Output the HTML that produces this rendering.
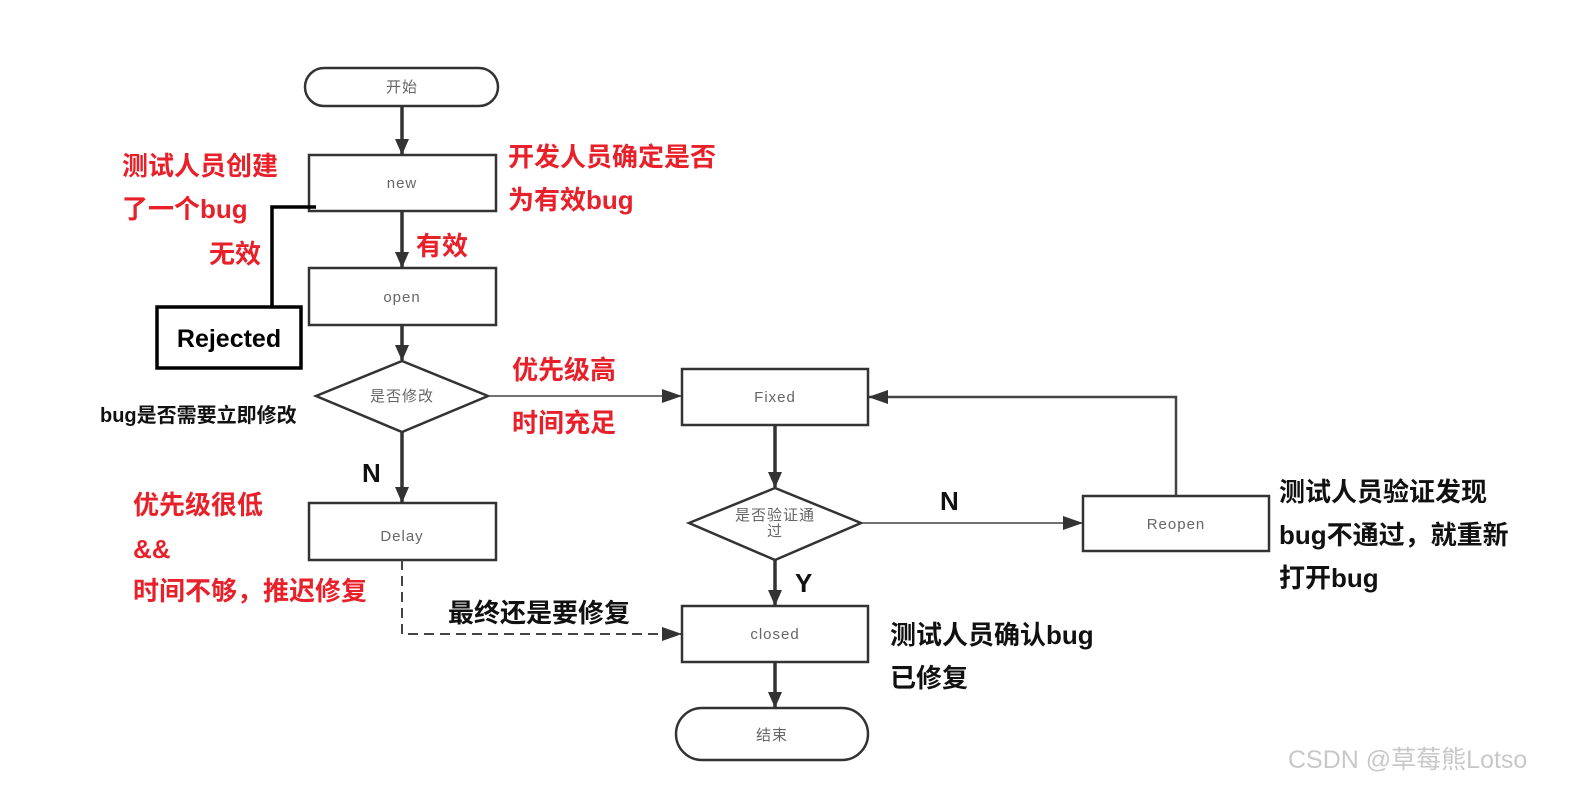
<!DOCTYPE html>
<html><head><meta charset="utf-8"><style>
html,body{margin:0;padding:0;background:#fff;}
svg{display:block;}
.r{fill:#e8202a;font-family:"Liberation Sans","Noto Sans CJK SC",sans-serif;font-weight:bold;font-size:26px;}
.k{fill:#111;font-family:"Liberation Sans","Noto Sans CJK SC",sans-serif;font-weight:bold;font-size:26px;}
.g{fill:#666;font-family:"Liberation Sans","Noto Sans CJK SC",sans-serif;font-size:15px;letter-spacing:1px;}
</style></head><body>
<svg width="1582" height="792" viewBox="0 0 1582 792" xmlns="http://www.w3.org/2000/svg">
<defs><marker id="a" markerWidth="14" markerHeight="16" refX="7" refY="15" orient="0" markerUnits="userSpaceOnUse"><path d="M0,0 L14,0 L7,16 z" fill="#333"/></marker>
<marker id="b" markerWidth="20" markerHeight="14" refX="19" refY="7" orient="auto" markerUnits="userSpaceOnUse"><path d="M0,0 L20,7 L0,14 z" fill="#333"/></marker></defs>
<g fill="#fff" stroke="#333" stroke-width="2.5">
<rect x="305" y="68" width="193" height="38" rx="19"/>
<rect x="309" y="155" width="187" height="56"/>
<rect x="309" y="268" width="187" height="57"/>
<polygon points="316,396 402,361 488,396 402,432"/>
<rect x="682" y="369" width="186" height="56"/>
<rect x="309" y="503" width="187" height="57"/>
<polygon points="689,523 775,488 861,523 775,560"/>
<rect x="1083" y="496" width="186" height="55"/>
<rect x="682" y="606" width="186" height="56"/>
<rect x="676" y="708" width="192" height="52" rx="26"/>
</g>
<rect x="157" y="307" width="144" height="61" fill="#fff" stroke="#000" stroke-width="3.5"/>
<g stroke="#333" stroke-width="3.5" fill="none" marker-end="url(#a)">
<line x1="402" y1="106" x2="402" y2="154"/>
<line x1="402" y1="211" x2="402" y2="267"/>
<line x1="402" y1="325" x2="402" y2="360"/>
<line x1="402" y1="432" x2="402" y2="502"/>
<line x1="775" y1="425" x2="775" y2="487"/>
<line x1="775" y1="560" x2="775" y2="605"/>
<line x1="775" y1="662" x2="775" y2="707"/>
</g>
<g stroke="#444" stroke-width="1.5" fill="none" marker-end="url(#b)">
<line x1="488" y1="396" x2="681" y2="396"/>
<line x1="861" y1="523" x2="1082" y2="523"/>
<polyline points="1176,496 1176,397 869,397" stroke-width="2.5"/>
<polyline points="402,560 402,634 681,634" stroke-dasharray="10,6" stroke-width="2"/>
</g>
<polyline points="316,207 272,207 272,307" stroke="#000" stroke-width="3.5" fill="none"/>
<g class="g" text-anchor="middle">
<text x="402" y="92">开始</text>
<text x="402" y="188">new</text>
<text x="402" y="302">open</text>
<text x="402" y="401">是否修改</text>
<text x="775" y="402">Fixed</text>
<text x="402" y="541">Delay</text>
<text x="775" y="520">是否验证通</text>
<text x="775" y="536">过</text>
<text x="1176" y="529">Reopen</text>
<text x="775" y="639">closed</text>
<text x="772" y="740">结束</text>
</g>
<text x="229" y="347" text-anchor="middle" style="font-family:'Liberation Sans',sans-serif;font-weight:bold;font-size:25px;fill:#000">Rejected</text>
<text class="r" x="122" y="175">测试人员创建</text>
<text class="r" x="122" y="218">了一个bug</text>
<text class="r" x="209" y="263">无效</text>
<text class="r" x="508" y="166">开发人员确定是否</text>
<text class="r" x="508" y="209">为有效bug</text>
<text class="r" x="416" y="255">有效</text>
<text class="r" x="512" y="379">优先级高</text>
<text class="r" x="512" y="432">时间充足</text>
<text class="r" x="133" y="514">优先级很低</text>
<text class="r" x="133" y="558">&amp;&amp;</text>
<text class="r" x="133" y="600">时间不够，推迟修复</text>
<text class="k" x="100" y="422" style="font-size:20px">bug是否需要立即修改</text>
<text class="k" x="362" y="482">N</text>
<text class="k" x="940" y="510">N</text>
<text class="k" x="795" y="592">Y</text>
<text class="k" x="448" y="622">最终还是要修复</text>
<text class="k" x="890" y="644">测试人员确认bug</text>
<text class="k" x="890" y="687">已修复</text>
<text class="k" x="1279" y="501">测试人员验证发现</text>
<text class="k" x="1279" y="544">bug不通过，就重新</text>
<text class="k" x="1279" y="587">打开bug</text>
<text x="1288" y="768" style="font-family:'Liberation Sans','Noto Sans CJK SC',sans-serif;font-size:25px;fill:#c8c8c8">CSDN @草莓熊Lotso</text>
</svg>
</body></html>
